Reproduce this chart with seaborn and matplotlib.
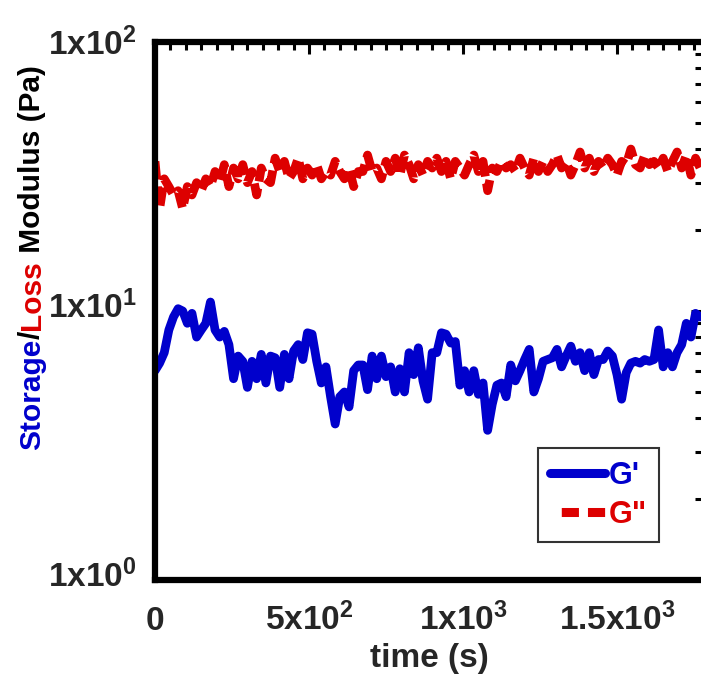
import numpy as np
import pandas as pd
import matplotlib
matplotlib.use("Agg")
import matplotlib.pyplot as plt
import matplotlib.ticker as mticker
import matplotlib.transforms as mtrans
import seaborn as sns

# ---------------- data ----------------
time_s = np.arange(0, 1771, 15)  # sampling times (s)

g_storage = [
    6.0, 6.4, 7.0, 8.5, 9.5, 10.2, 10.0, 9.0, 9.8, 8.0,
    8.5, 9.0, 10.8, 8.5, 8.0, 8.4, 7.5, 5.6, 6.8, 6.5,
    5.2, 6.5, 5.6, 6.9, 5.4, 6.8, 6.7, 5.2, 6.9, 5.6,
    7.1, 7.5, 6.6, 8.3, 8.2, 6.5, 5.4, 6.2, 4.8, 3.8,
    4.8, 5.0, 4.4, 6.0, 6.3, 6.3, 5.1, 6.8, 5.6, 6.8,
    5.7, 6.2, 5.0, 6.1, 5.0, 7.0, 5.8, 7.3, 5.5, 4.7,
    7.0, 7.0, 8.3, 8.2, 7.6, 7.7, 5.3, 6.0, 5.0, 6.0,
    4.9, 5.4, 3.6, 4.5, 5.3, 5.4, 4.8, 6.3, 5.5, 6.0,
    6.6, 7.2, 5.0, 5.6, 6.5, 6.6, 6.7, 7.2, 6.2, 6.8,
    7.4, 6.5, 7.0, 6.0, 7.0, 5.8, 6.6, 6.6, 7.1, 6.8,
    5.8, 4.7, 5.9, 6.4, 6.5, 6.4, 6.6, 6.5, 6.6, 8.5,
    6.2, 7.0, 6.2, 7.0, 7.5, 9.0, 8.0, 9.8, 9.5,
]

g_loss = [
    36, 24, 31, 29, 27, 28, 24, 29, 27, 30,
    28, 31, 29, 33, 30, 35, 29, 34, 31, 35,
    30, 33, 27, 34, 31, 30, 37, 33, 36, 31,
    33, 37, 31, 34, 32, 35, 31, 33, 32, 36,
    33, 31, 34, 29, 33, 33, 38, 33, 34, 31,
    36, 33, 37, 32, 38, 35, 31, 35, 32, 36,
    34, 37, 33, 36, 31, 36, 34, 32, 35, 38,
    33, 36, 28, 34, 33, 36, 34, 35, 33, 37,
    34, 32, 37, 33, 36, 33, 35, 38, 34, 36,
    32, 35, 39, 34, 37, 33, 36, 34, 37, 35,
    32, 36, 35, 40, 35, 34, 38, 35, 36, 34,
    37, 33, 36, 39, 34, 38, 32, 37, 34,
]

series_labels = ["G'", 'G"']
x_tick_values = [0, 500, 1000, 1500]
x_tick_labels = [r"$\mathbf{0}$", r"$\mathbf{5x10^{2}}$",
                 r"$\mathbf{1x10^{3}}$", r"$\mathbf{1.5x10^{3}}$"]
y_tick_values = [1, 10, 100]
y_tick_labels = [r"$\mathbf{1x10^{0}}$", r"$\mathbf{1x10^{1}}$",
                 r"$\mathbf{1x10^{2}}$"]
x_label = "time (s)"

BLUE = "#0000CC"
RED = "#DD0000"
ylabel_parts = [("Storage", BLUE), ("/", "black"), ("Loss", RED),
                (" Modulus (Pa)", "black")]

# ---------------- style ----------------
sns.set_style("white")
plt.rcParams["font.family"] = ["Liberation Sans", "DejaVu Sans"]
plt.rcParams["font.weight"] = "bold"
plt.rcParams["mathtext.fontset"] = "custom"
plt.rcParams["mathtext.rm"] = "Liberation Sans:bold"
plt.rcParams["mathtext.bf"] = "Liberation Sans:bold"
plt.rcParams["mathtext.it"] = "Liberation Sans:bold"

W, H = 701, 675
fig = plt.figure(figsize=(W / 100, H / 100), dpi=100)
L, R, T, B = 155, 703, 42, 580
ax = fig.add_axes([L / W, 1 - B / H, (R - L) / W, (B - T) / H])

assert len(g_storage) == len(time_s) == len(g_loss)
df = pd.DataFrame({"time": time_s, series_labels[0]: g_storage,
                   series_labels[1]: g_loss})

LW = 6.3
sns.lineplot(data=df, x="time", y=series_labels[0], color=BLUE, lw=LW,
             ax=ax, label=series_labels[0])
sns.lineplot(data=df, x="time", y=series_labels[1], color=RED, lw=LW,
             ax=ax, label=series_labels[1], linestyle=(0, (2.1, 0.8)))

ax.set_yscale("log")
ax.set_ylim(1, 100)
ax.set_xlim(0, (R - L) / 154 * 500)

ax.set_xticks(x_tick_values)
ax.set_xticklabels(x_tick_labels)
ax.xaxis.set_minor_locator(mticker.MultipleLocator(50))
ax.set_yticks(y_tick_values)
ax.set_yticklabels(y_tick_labels)
ax.yaxis.set_minor_locator(mticker.LogLocator(base=10, subs=np.arange(2, 10)))
ax.yaxis.set_minor_formatter(mticker.NullFormatter())

ax.tick_params(which="both", direction="in", top=True, right=True,
               width=2.2, color="black")
ax.tick_params(which="major", length=8.5)
ax.tick_params(which="minor", length=5.5)
ax.tick_params(axis="x", which="major", labelsize=24, pad=36)
ax.tick_params(axis="y", which="major", labelsize=24, pad=13)

for lbl in ax.get_xticklabels():
    lbl.set_va("baseline")
y_offsets = [-0.07, -0.07, -0.13]  # inches, per label (top one sits lower)
for lbl, off in zip(ax.get_yticklabels(), y_offsets):
    lbl.set_va("baseline")
    lbl.set_transform(lbl.get_transform() +
                      mtrans.ScaledTranslation(0, off, fig.dpi_scale_trans))

for sp in ax.spines.values():
    sp.set_linewidth(4.5)
    sp.set_color("black")

ax.set_xlabel(x_label, fontsize=24, fontweight="bold")
ax.xaxis.set_label_coords(0.5, (B - 643) / (B - T))
ax.set_ylabel("")

leg = ax.legend(loc="lower left",
                bbox_to_anchor=((538 - L) / (R - L), (B - 542) / (B - T)),
                borderaxespad=0, fontsize=22, handlelength=1.8,
                handletextpad=0.12, borderpad=0.4, labelspacing=0.3,
                frameon=True, fancybox=False, edgecolor="#333333",
                framealpha=1)
leg.get_frame().set_linewidth(1.5)
leg._legend_box.align = "left"
for txt, c in zip(leg.get_texts(), [BLUE, RED]):
    txt.set_color(c)
    txt.set_fontweight("bold")
leg_lines = leg.get_lines()
for ln in leg_lines:
    ln.set_linewidth(6.5)
# legend dash: blank, dash, gap, dash (in linewidth units)
leg_lines[1].set_linestyle((0, (0, 1.25, 1.9, 1.0, 1.9, 10)))

# widen the legend frame slightly to the right, like the reference box
fig.canvas.draw()
fb = leg.get_frame()
fb.set_width(fb.get_width() + 5)

# multi-coloured y-axis label
renderer = fig.canvas.get_renderer()
cur = 1 - 450 / H
xc = 32 / W
for txt, col in ylabel_parts:
    t = fig.text(xc, cur, txt, rotation=90, rotation_mode="anchor",
                 ha="left", va="center", color=col, fontsize=21.5,
                 fontweight="bold")
    bb = t.get_window_extent(renderer)
    cur += bb.height / H

fig.savefig("out.png", dpi=100)
